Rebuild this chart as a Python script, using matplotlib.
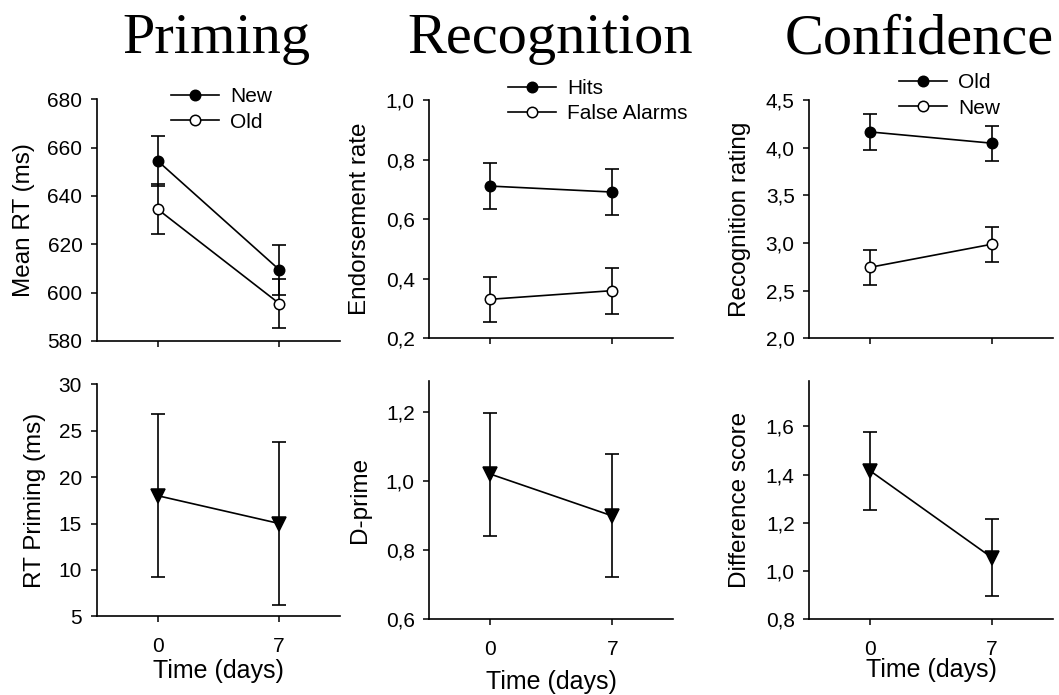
import matplotlib
matplotlib.use("Agg")
import matplotlib.pyplot as plt
from matplotlib.ticker import FuncFormatter, FixedLocator

# ---- data ----
days = [0, 7]
day_labels = ["0", "7"]

# Priming: mean RT (ms)
rt_new = [654.5, 609.5]
rt_new_err = [10.3, 10.4]
rt_old = [634.5, 595.5]
rt_old_err = [10.3, 10.3]

# Recognition: endorsement rate
hits = [0.711, 0.691]
hits_err = [0.076, 0.077]
false_alarms = [0.331, 0.360]
false_alarms_err = [0.076, 0.077]

# Confidence: recognition rating
conf_old = [4.165, 4.047]
conf_old_err = [0.185, 0.182]
conf_new = [2.745, 2.987]
conf_new_err = [0.185, 0.185]

# Bottom row summaries
rt_priming = [18.0, 15.0]
rt_priming_err = [8.77, 8.75]
dprime = [1.020, 0.899]
dprime_err = [0.178, 0.178]
diff_score = [1.416, 1.056]
diff_score_err = [0.163, 0.159]

titles = ["Priming", "Recognition", "Confidence"]

# ---- figure ----
W, H = 1059, 695
plt.rcParams["font.family"] = ["Liberation Sans", "DejaVu Sans"]
fig = plt.figure(figsize=(W / 100, H / 100), dpi=100)


def add_ax(left, right, top, bottom):
    return fig.add_axes([left / W, 1 - bottom / H, (right - left) / W, (bottom - top) / H])


def comma(dec):
    return FuncFormatter(lambda v, p: (f"{v:.{dec}f}").replace(".", ","))


def style(ax, ylim, yticks, dec, show_xlabels):
    for s in ("top", "right"):
        ax.spines[s].set_visible(False)
    for s in ("left", "bottom"):
        ax.spines[s].set_linewidth(1.2)
    ax.set_xlim(-3.5, 10.5)
    ax.set_ylim(*ylim)
    ax.xaxis.set_major_locator(FixedLocator(days))
    ax.yaxis.set_major_locator(FixedLocator(yticks))
    ax.yaxis.set_major_formatter(comma(dec))
    ax.tick_params(axis="both", direction="out", length=4, width=1.1, labelsize=15, colors="black")
    ax.tick_params(axis="y", pad=6.5)
    ax.tick_params(axis="x", pad=11)
    if show_xlabels:
        ax.set_xticklabels(day_labels)
    else:
        ax.set_xticklabels([])


def series(ax, y, err, marker, face, ms, label=None):
    ax.errorbar(days, y, yerr=err, fmt="none", ecolor="black", elinewidth=1.2,
                capsize=5, capthick=1.2, zorder=2)
    ax.plot(days, y, color="black", lw=1.2, marker=marker, markersize=ms,
            markerfacecolor=face, markeredgecolor="black", markeredgewidth=1.1,
            zorder=3, label=label)


def ylabel(ax, text, xfrac):
    ax.set_ylabel(text, fontsize=17.5, va="center")
    ax.yaxis.set_label_coords(xfrac, 0.5)


def xlabel(ax, text, yfrac):
    ax.set_xlabel(text, fontsize=18, va="top")
    ax.xaxis.set_label_coords(0.5, yfrac)


def legend(ax, x_px, y_px):
    ax.legend(loc="upper left", bbox_to_anchor=(x_px / W, 1 - y_px / H),
              bbox_transform=fig.transFigure, frameon=False, fontsize=15,
              borderpad=0, borderaxespad=0, handlelength=2.3,
              handletextpad=0.55, labelspacing=0.3)


# Top row
ax1 = add_ax(97, 340, 99.3, 341)
series(ax1, rt_new, rt_new_err, "o", "black", 7.5, "New")
series(ax1, rt_old, rt_old_err, "o", "white", 7.5, "Old")
style(ax1, (580, 680), [580, 600, 620, 640, 660, 680], 0, False)
ylabel(ax1, "Mean RT (ms)", -0.30)
legend(ax1, 171, 87.5)

ax2 = add_ax(429.3, 673.3, 100, 338.3)
series(ax2, hits, hits_err, "o", "black", 7.5, "Hits")
series(ax2, false_alarms, false_alarms_err, "o", "white", 7.5, "False Alarms")
style(ax2, (0.2, 1.0), [0.2, 0.4, 0.6, 0.8, 1.0], 1, False)
ylabel(ax2, "Endorsement rate", -0.284)
legend(ax2, 507.7, 79)

ax3 = add_ax(809.3, 1052.7, 100, 338.3)
series(ax3, conf_old, conf_old_err, "o", "black", 7.5, "Old")
series(ax3, conf_new, conf_new_err, "o", "white", 7.5, "New")
style(ax3, (2.0, 4.5), [2.0, 2.5, 3.0, 3.5, 4.0, 4.5], 1, False)
ylabel(ax3, "Recognition rating", -0.285)
legend(ax3, 899, 73.5)

# Bottom row
ax4 = add_ax(96.7, 340, 384.3, 616.3)
series(ax4, rt_priming, rt_priming_err, "v", "black", 10)
style(ax4, (5, 30), [5, 10, 15, 20, 25, 30], 0, True)
ylabel(ax4, "RT Priming (ms)", -0.254)
xlabel(ax4, "Time (days)", -0.185)

ax5 = add_ax(429.3, 673.3, 380.7, 619.3)
series(ax5, dprime, dprime_err, "v", "black", 10)
style(ax5, (0.6, 1.29), [0.6, 0.8, 1.0, 1.2], 1, True)
ylabel(ax5, "D-prime", -0.284)
xlabel(ax5, "Time (days)", -0.212)

ax6 = add_ax(809.3, 1052.7, 380.7, 619.3)
series(ax6, diff_score, diff_score_err, "v", "black", 10)
style(ax6, (0.8, 1.79), [0.8, 1.0, 1.2, 1.4, 1.6], 1, True)
ylabel(ax6, "Difference score", -0.285)
xlabel(ax6, "Time (days)", -0.163)

# Column titles
for text, xc in zip(titles, [216.5, 550, 919.5]):
    fig.text(xc / W, 1 - 53 / H, text, ha="center", va="baseline",
             fontsize=42, family=["Liberation Serif", "DejaVu Serif"])

fig.savefig("out.png", dpi=100)
